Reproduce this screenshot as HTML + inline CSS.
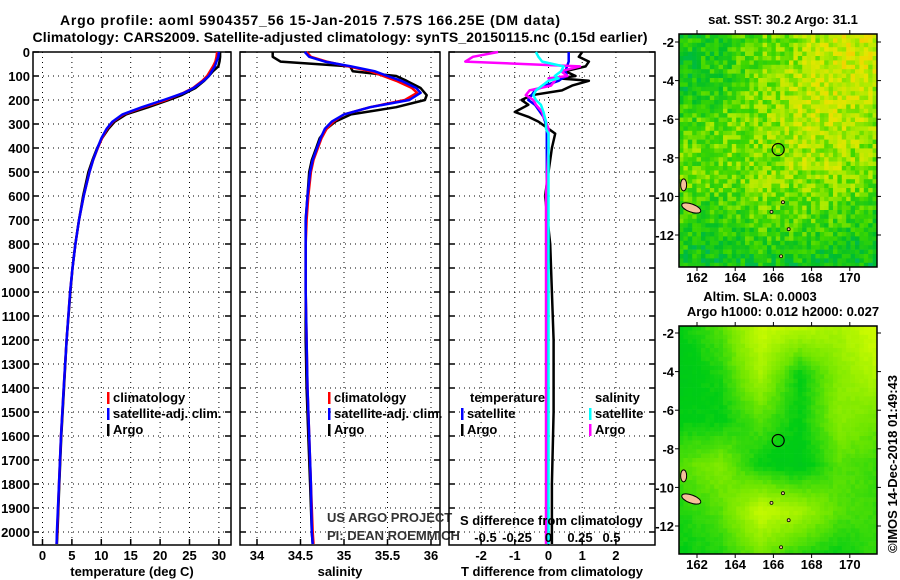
<!DOCTYPE html>
<html><head><meta charset="utf-8"><style>
body{margin:0;background:#fff;width:900px;height:580px;overflow:hidden}
svg{display:block;font-family:"Liberation Sans",sans-serif}
.b{font-weight:bold;font-size:13px}
.t{font-weight:bold;font-size:14px}
</style></head><body>
<svg id="s" width="900" height="580" xmlns="http://www.w3.org/2000/svg">
<text class="t" x="310" y="25" text-anchor="middle" textLength="500">Argo profile: aoml 5904357_56 15-Jan-2015 7.57S 166.25E (DM data)</text>
<text class="t" x="340" y="42" text-anchor="middle" textLength="615">Climatology: CARS2009. Satellite-adjusted climatology: synTS_20150115.nc (0.15d earlier)</text>
</svg>
<script>
// ---- data ----
const depthTicks=[0,100,200,300,400,500,600,700,800,900,1000,1100,1200,1300,1400,1500,1600,1700,1800,1900,2000];
const tempTicks=[0,5,10,15,20,25,30];
const salTicks=[34,34.5,35,35.5,36];
const salTickLabels=["34","34.5","35","35.5","36"];
const tdTicks=[-2,-1,0,1,2];
const sdTicks=[-0.5,-0.25,0,0.25,0.5];
const sdTickLabels=["-0.5","-0.25","0","0.25","0.5"];

const argoDepth=[0,20,40,60,80,100,120,150,180,200,230,260,290,320,360,400,450,500,600,700,800,900,1000,1200,1400,1600,1800,2000,2050];
const argoTemp=[30.2,30.2,30.1,29.9,29.0,28.3,27.5,26.0,23.6,21.5,18.0,14.2,12.3,11.2,10.1,9.3,8.5,7.8,6.9,6.2,5.6,5.1,4.75,4.1,3.65,3.2,2.85,2.55,2.45];
const argoSal=[34.18,34.18,34.27,35.07,35.1,35.6,35.72,35.88,35.95,35.93,35.6,35.08,34.9,34.8,34.72,34.68,34.63,34.6,34.58,34.56,34.56,34.56,34.56,34.56,34.57,34.59,34.61,34.63,34.64];
const climDepth=[0,20,40,60,80,100,120,150,170,200,230,260,290,320,360,400,450,500,600,700,800,900,1000,1200,1400,1600,1800,2000,2050];
const climTemp=[29.7,29.6,29.4,29.0,28.5,28.0,27.2,25.6,24.0,21.0,17.2,13.8,12.0,11.0,10.1,9.4,8.6,8.0,7.0,6.2,5.6,5.1,4.7,4.1,3.6,3.15,2.8,2.5,2.4];
const climSal=[34.57,34.62,34.8,35.05,35.3,35.45,35.6,35.78,35.84,35.7,35.3,35.0,34.88,34.8,34.74,34.7,34.65,34.62,34.59,34.57,34.56,34.56,34.56,34.57,34.58,34.6,34.62,34.64,34.65];
const satTemp=[30.0,29.9,29.6,29.3,28.8,28.3,27.4,25.7,24.1,20.6,16.9,13.6,11.9,10.9,10.0,9.35,8.6,8.0,7.0,6.2,5.6,5.1,4.7,4.1,3.6,3.15,2.8,2.45,2.4];
const satSal=[34.55,34.6,34.78,35.08,35.35,35.5,35.66,35.83,35.88,35.75,35.3,35.0,34.86,34.78,34.73,34.69,34.64,34.61,34.58,34.56,34.56,34.56,34.56,34.57,34.58,34.6,34.62,34.63,34.64];

const diffDepth=[0,20,40,60,80,100,110,120,140,160,180,200,220,250,270,290,320,340,400,600,800,1000,1200,1500,1800,2050];
const argoTdiff=[1.0,0.9,1.2,1.1,0.5,0.8,0.3,1.2,0.7,0.4,-0.5,-0.8,-0.6,-1.0,-0.6,-0.3,0.0,0.2,0.1,-0.1,0.05,0.1,0.15,0.15,0.1,0.1];
const satTdiff=[0.6,0.6,0.6,0.55,0.5,0.55,0.4,0.3,-0.1,-0.4,-0.5,-0.6,-0.4,-0.25,-0.15,-0.1,-0.05,-0.05,-0.05,-0.05,-0.05,-0.05,-0.03,-0.03,-0.03,-0.03];
const argoSdiff=[-0.4,-0.6,-0.66,0.25,0.1,0.15,0.0,0.05,0.02,-0.15,-0.18,-0.12,-0.1,-0.05,-0.04,-0.02,0.0,0.0,0.0,-0.02,-0.02,-0.02,-0.02,-0.02,-0.02,-0.02];
const satSdiff=[-0.1,-0.08,-0.05,0.12,0.1,0.05,0.08,0.0,-0.05,-0.1,-0.12,-0.1,-0.06,-0.04,-0.03,-0.02,-0.02,0,0,0,0,0,0,0,0,0];

// map fields (coarse grids, rows north->south, cols west->east), values 0..1
const sstGrid=[[0.35,0.35,0.5,0.58,0.68,0.72],[0.3,0.38,0.52,0.62,0.68,0.64],[0.45,0.5,0.55,0.64,0.64,0.58],[0.5,0.5,0.55,0.58,0.58,0.5],[0.4,0.36,0.45,0.45,0.4,0.36],[0.28,0.28,0.32,0.3,0.28,0.28]];
const slaGrid=[[0.35,0.5,0.8,0.75,0.7,0.85],[0.3,0.4,0.7,0.35,0.62,0.75],[0.35,0.35,0.5,0.35,0.62,0.55],[0.5,0.6,0.35,0.3,0.5,0.45],[0.4,0.5,0.8,0.7,0.5,0.45],[0.35,0.4,0.55,0.4,0.35,0.45]];

// ---- drawing ----
const S=document.getElementById('s');const NS='http://www.w3.org/2000/svg';
function mk(t,a,p){const e=document.createElementNS(NS,t);for(const k in a)e.setAttribute(k,a[k]);(p||S).appendChild(e);return e;}
const y=d=>52+d*0.24;
const PB=545;
const xT=v=>42.5+v*5.88, xS=v=>257+(v-34)*87, xTD=v=>548.5+v*33.7, xSD=v=>548.5+v*126;

function panel(name,x0,x1,xs,ticks,labels,title){
  const g=mk('g',{});
  
  
  depthTicks.forEach(d=>{mk('line',{x1:x0,x2:x1,y1:y(d),y2:y(d),stroke:'#000','stroke-dasharray':'1,4','stroke-width':1},g);
    mk('line',{x1:x0,x2:x0+6,y1:y(d),y2:y(d),stroke:'#000','stroke-width':1.5},g);mk('line',{x1:x1-6,x2:x1,y1:y(d),y2:y(d),stroke:'#000','stroke-width':1.5},g);});
  ticks.forEach((t,i)=>{const xx=xs(t);mk('line',{x1:xx,x2:xx,y1:52,y2:PB,stroke:'#000','stroke-dasharray':'1,4','stroke-width':1},g);
    mk('line',{x1:xx,x2:xx,y1:PB-6,y2:PB,stroke:'#000','stroke-width':1.5},g);
    const tx=mk('text',{x:xx,y:560,'text-anchor':'middle','class':'b'},g);tx.textContent=labels[i];
    
    });
  mk('rect',{x:x0,y:52,width:x1-x0,height:PB-52,fill:'none',stroke:'#000','stroke-width':1.5},g);
  const tt=mk('text',{x:(x0+x1)/2,y:576,'text-anchor':'middle','class':'b'},g);tt.textContent=title;
  
  
  return g;
}
function line(g,xs,vals,deps,col,name){
  const pts=vals.map((v,i)=>xs(v).toFixed(1)+','+y(deps[i]).toFixed(1)).join(' ');
  const p=mk('polyline',{points:pts,fill:'none',stroke:col,'stroke-width':2.5,'stroke-linejoin':'round'},g);
  
  
}
function txt(g,x,yy,s,cls,name,extra){const t=mk('text',Object.assign({x:x,y:yy,'class':cls||'b'},extra||{}),g);t.textContent=s;
  
  return t;}
function leg(g,x,yy,col,s,name){mk('rect',{x:x,y:yy-10,width:2.5,height:12,fill:col},g);txt(g,x+6,yy,s,'b',name);}

depthTicks.forEach(d=>{txt(S,30,y(d)+5,String(d),'b','y-tick-label',{'text-anchor':'end'});});

const p1=panel('temperature-panel',33,231,xT,tempTicks,tempTicks.map(String),'temperature (deg C)');
line(p1,xT,argoTemp,argoDepth,'#000','argo-temperature-line');
line(p1,xT,climTemp,climDepth,'#f00','climatology-temperature-line');
line(p1,xT,satTemp,climDepth,'#00f','satellite-temperature-line');
leg(p1,107,402,'#f00','climatology','legend-climatology');
leg(p1,107,418,'#00f','satellite-adj. clim.','legend-satellite');
leg(p1,107,434,'#000','Argo','legend-argo');

const p2=panel('salinity-panel',240,440,xS,salTicks,salTickLabels,'salinity');
line(p2,xS,argoSal,argoDepth,'#000','argo-salinity-line');
line(p2,xS,climSal,climDepth,'#f00','climatology-salinity-line');
line(p2,xS,satSal,climDepth,'#00f','satellite-salinity-line');
leg(p2,328,402,'#f00','climatology','legend-climatology');
leg(p2,328,418,'#00f','satellite-adj. clim.','legend-satellite');
leg(p2,328,434,'#000','Argo','legend-argo');
txt(p2,327,522,'US ARGO PROJECT','', 'credit-project',{'font-size':'12px','fill':'#333'});
txt(p2,327,540,'PI: DEAN ROEMMICH','', 'credit-pi',{'font-size':'12px','fill':'#333'});

const p3=panel('difference-panel',449,655,xTD,tdTicks,tdTicks.map(String),'T difference from climatology');
line(p3,xTD,argoTdiff,diffDepth,'#000','argo-t-diff-line');
line(p3,xTD,satTdiff,diffDepth,'#00f','satellite-t-diff-line');
line(p3,xSD,argoSdiff,diffDepth,'#f0f','argo-s-diff-line');
line(p3,xSD,satSdiff,diffDepth,'#0ff','satellite-s-diff-line');
txt(p3,470,402,'temperature','b','legend-temperature-header');
leg(p3,461,418,'#00f','satellite','legend-t-satellite');
leg(p3,461,434,'#000','Argo','legend-t-argo');
txt(p3,595,402,'salinity','b','legend-salinity-header');
leg(p3,589,418,'#0ff','satellite','legend-s-satellite');
leg(p3,589,434,'#f0f','Argo','legend-s-argo');
txt(p3,460,525,'S difference from climatology','b','s-diff-axis-title');
sdTicks.forEach((v,i)=>{txt(p3,xSD(v),542,sdTickLabels[i],'b','s-diff-tick-label',{'text-anchor':'middle'});});

// maps
function ramp(st,v){for(let i=1;i<st.length;i++)if(v<=st[i][0]){const a=st[i-1],b=st[i],f=(v-a[0])/(b[0]-a[0]);return 'rgb('+a[1].map((c,k)=>Math.round(c+(b[1][k]-c)*f)).join(',')+')';}const l=st[st.length-1][1];return 'rgb('+l.join(',')+')';}
const sstStops=[[0,[0,170,200]],[0.25,[0,190,40]],[0.45,[60,215,0]],[0.6,[170,235,0]],[0.75,[230,230,0]],[0.9,[255,190,0]],[1,[255,0,0]]];
const slaStops=[[0,[0,180,60]],[0.35,[0,205,20]],[0.55,[110,230,0]],[0.8,[200,250,0]],[1,[220,255,0]]];
const colSST=v=>ramp(sstStops,v), colSLA=v=>ramp(slaStops,v);
function samp(G,u,v){const n=G.length-1;const X=u*n,Y=v*n;const i=Math.min(n-1,Math.floor(X)),j=Math.min(n-1,Math.floor(Y));const fx=X-i,fy=Y-j;
  return G[j][i]*(1-fx)*(1-fy)+G[j][i+1]*fx*(1-fy)+G[j+1][i]*(1-fx)*fy+G[j+1][i+1]*fx*fy;}
function hash(a,b){let h=(a*374761393+b*668265263)|0;h=(h^(h>>>13))*1274126177|0;return ((h^(h>>>16))>>>0)/4294967296;}
function mapPanel(name,x0,y0,x1,y1,G,colf,cell,noise,latY0){
  const g=mk('g',{});
  
  
  const nx=Math.ceil((x1-x0)/cell),ny=Math.ceil((y1-y0)/cell);
  for(let j=0;j<ny;j++)for(let i=0;i<nx;i++){let v=samp(G,i/nx,j/ny)+(hash(i,j)-0.5)*noise;v=Math.max(0,Math.min(1,v));
    mk('rect',{x:x0+i*cell,y:y0+j*cell,width:Math.min(cell,x1-x0-i*cell)+0.3,height:Math.min(cell,y1-y0-j*cell)+0.3,fill:colf(v)},g);}
  const lonX=l=>697+(l-162)*19.1, latY=l=>latY0+(-2-l)*19.3;
  mk('ellipse',{cx:lonX(161.7),cy:latY(-10.6),rx:10,ry:4,fill:'#f5c09a',stroke:'#000','stroke-width':1,transform:'rotate(20 '+lonX(161.7)+' '+latY(-10.6)+')'},g);
  mk('ellipse',{cx:lonX(161.3),cy:latY(-9.4),rx:3,ry:6,fill:'#f5c09a',stroke:'#000','stroke-width':1},g);
  [[165.9,-10.8],[166.8,-11.7],[166.5,-10.3],[166.4,-13.1]].forEach(p=>mk('circle',{cx:lonX(p[0]),cy:latY(p[1]),r:1.5,fill:'#f5c09a',stroke:'#000','stroke-width':0.8},g));
  const c=mk('circle',{cx:lonX(166.25),cy:latY(-7.57),r:6,fill:'none',stroke:'#000','stroke-width':1.2},g);
  
  
  mk('rect',{x:x0,y:y0,width:x1-x0,height:y1-y0,fill:'none',stroke:'#000','stroke-width':1.5},g);
  [-2,-4,-6,-8,-10,-12].forEach(l=>{const yy=latY(l);mk('line',{x1:x0-4,x2:x0,y1:yy,y2:yy,stroke:'#000'},g);mk('line',{x1:x1,x2:x1+4,y1:yy,y2:yy,stroke:'#000'},g);
    txt(g,x0-5,yy+5,String(l),'b','lat-tick-label',{'text-anchor':'end'});});
  [162,164,166,168,170].forEach(l=>{const xx=lonX(l);mk('line',{x1:xx,x2:xx,y1:y1,y2:y1+4,stroke:'#000'},g);mk('line',{x1:xx,x2:xx,y1:y0-4,y2:y0,stroke:'#000'},g);
    txt(g,xx,y1+15,String(l),'b','lon-tick-label',{'text-anchor':'middle'});});
}
mapPanel('sst-map',679,34,877,267,sstGrid,colSST,4.4,0.28,42);
txt(S,783,24,'sat. SST: 30.2 Argo: 31.1','b','sst-map-title',{'text-anchor':'middle'});
mapPanel('sla-map',679,326,877,554,slaGrid,colSLA,4.4,0.04,333);
txt(S,760,301,'Altim. SLA: 0.0003','b','sla-map-title',{'text-anchor':'middle'});
txt(S,783,316,'Argo h1000: 0.012 h2000: 0.027','b','sla-map-subtitle',{'text-anchor':'middle'});
txt(S,0,0,'©IMOS 14-Dec-2018 01:49:43','', 'imos-stamp',{'font-size':'13px','text-anchor':'middle',transform:'translate(897,464) rotate(-90)'});
</script>
</body></html>
